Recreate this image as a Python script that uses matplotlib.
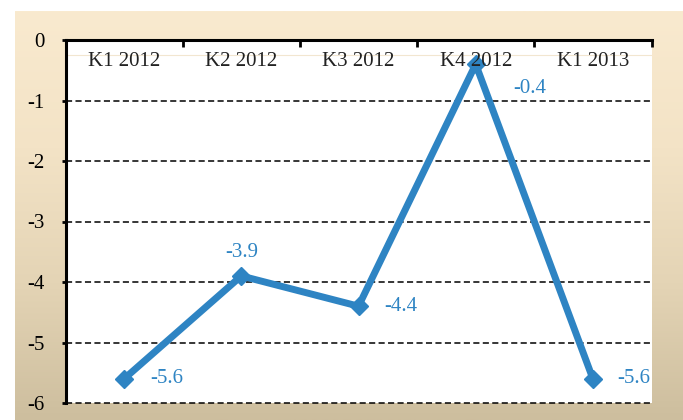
import numpy as np
import matplotlib
matplotlib.use("Agg")
import matplotlib.pyplot as plt
from matplotlib.colors import LinearSegmentedColormap

quarters = ["K1 2012", "K2 2012", "K3 2012", "K4 2012", "K1 2013"]
values = [-5.6, -3.9, -4.4, -0.4, -5.6]
yticks = [0, -1, -2, -3, -4, -5, -6]

blue = "#2E84C3"
plt.rcParams["font.family"] = ["Liberation Serif", "DejaVu Serif"]

fig = plt.figure(figsize=(6.83, 4.2), dpi=100)

# nen kem -> nau nhat
bg = fig.add_axes([15 / 683, 0, 1 - 15 / 683, 1 - 11 / 420])
bg.axis("off")
cmap = LinearSegmentedColormap.from_list("nen", ["#F9EACF", "#F3E3C6", "#E4D4B5", "#CDBE9E"])
grad = np.linspace(0, 1, 256).reshape(-1, 1)
bg.imshow(grad, aspect="auto", cmap=cmap, extent=[0, 1, 0, 1], origin="upper")

ax = fig.add_axes([65.5 / 683, 1 - 403 / 420, 586 / 683, 363 / 420])
ax.set_facecolor("white")
x = np.arange(len(quarters))
ax.set_xlim(-0.5, len(quarters) - 0.5)
ax.set_ylim(-6, 0)

for y in yticks[1:]:
    ax.axhline(y, color="black", lw=1.1, ls=(0, (4, 2.2)), zorder=1, clip_on=False)
ax.axhline(-0.25, color="#F2E6D0", lw=0.8, zorder=1)

ax.plot(x, values, color=blue, lw=5, marker="D", ms=9, zorder=3, clip_on=False)

for spine in ["right", "bottom"]:
    ax.spines[spine].set_visible(False)
ax.spines["left"].set_linewidth(2.2)
ax.spines["top"].set_linewidth(2.2)

ax.set_yticks(yticks)
ax.set_yticklabels([str(v) for v in yticks], fontsize=15)
ax.tick_params(axis="y", length=3, width=2, pad=12)
ax.set_xticks(np.arange(len(quarters) + 1) - 0.5)
ax.set_xticklabels([])
ax.tick_params(axis="x", bottom=False, top=True, direction="in", length=5, width=2)

for i, q in enumerate(quarters):
    ax.text(i, -0.2, q, ha="center", va="top", fontsize=15, color="#222222")

offsets = [(26, 0, "left", "center"), (0, 14, "center", "bottom"),
           (26, 0, "left", "center"), (38, -24, "left", "center"),
           (24, 0, "left", "center")]
for i, v in enumerate(values):
    dx, dy, ha, va = offsets[i]
    ax.annotate(f"{v:.1f}", (i, v), xytext=(dx * 0.72, dy * 0.72), textcoords="offset points",
                ha=ha, va=va, fontsize=15, color=blue, zorder=4)

fig.savefig("out.png", dpi=100)
